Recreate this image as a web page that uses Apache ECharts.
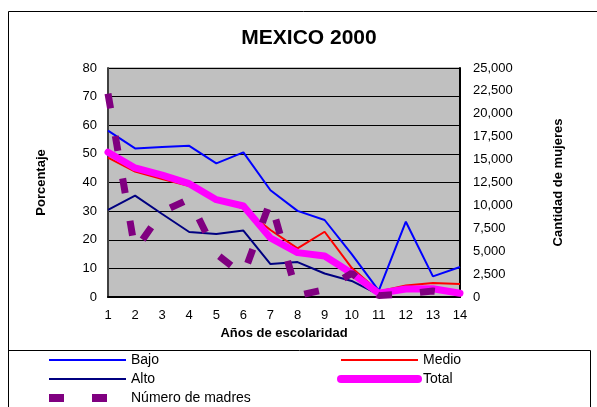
<!DOCTYPE html>
<html>
<head>
<meta charset="utf-8">
<script src="https://cdn.jsdelivr.net/npm/echarts@6/dist/echarts.min.js"></script>
<style>
  html, body { margin: 0; padding: 0; background: #fff; }
  #chart { width: 597px; height: 407px; }
</style>
</head>
<body>
<div id="chart"></div>
<script>
// datos
const anios = ["1", "2", "3", "4", "5", "6", "7", "8", "9", "10", "11", "12", "13", "14"];
const bajo = [58.1, 51.9, 52.4, 52.8, 46.7, 50.5, 37.3, 30.1, 26.9, 15.0, 2.2, 26.3, 7.2, 10.5];
const medio = [48.7, 43.8, 41.2, 38.8, 34.3, 30.9, 23.4, 17.0, 22.8, 10.2, 1.9, 4.0, 4.9, 4.5];
const alto = [30.4, 35.4, 29.0, 22.7, 22.0, 23.2, 11.5, 12.2, 8.2, 5.6, 0.8, 2.6, 2.6, 1.2];
const total = [50.6, 45.1, 42.6, 39.6, 34.0, 31.8, 20.6, 15.5, 14.3, 8.3, 1.3, 2.8, 2.9, 1.3];
const madres = [22200, 5100, 9300, 10700, 4700, 2400, 10500, 150, 800, 2600, 150, 350, 650, 300];

const FONT = "Liberation Sans, Arial, sans-serif";

const legendBase = {
  orient: "vertical",
  top: 353,
  padding: 0,
  height: 60,
  itemWidth: 77,
  itemHeight: 14,
  itemGap: 5,
  itemStyle: { opacity: 0 },
  textStyle: { fontSize: 14, color: "#000", fontFamily: FONT },
};

let myChart = echarts.init(document.getElementById("chart"));
let option = {
  animation: false,
  textStyle: { fontFamily: FONT },
  title: {
    text: "MEXICO 2000",
    left: 304,
    textAlign: "center",
    top: 23,
    textStyle: { fontSize: 21, fontWeight: "bold", color: "#000", fontFamily: FONT },
  },
  graphic: [
    {
      type: "rect",
      shape: { x: 8.5, y: 11.5, width: 600, height: 400 },
      style: { fill: "none", stroke: "#000", lineWidth: 1 },
      silent: true,
    },
    {
      type: "rect",
      shape: { x: 8.5, y: 350.5, width: 582, height: 60 },
      style: { fill: "none", stroke: "#000", lineWidth: 1 },
      silent: true,
    },
  ],
  legend: [
    Object.assign({}, legendBase, {
      left: 45,
      data: [
        { name: "Bajo", lineStyle: { width: 2 } },
        { name: "Alto", lineStyle: { width: 2 } },
        { name: "Número de madres", lineStyle: { width: 8 } },
      ],
    }),
    Object.assign({}, legendBase, {
      left: 337,
      data: [
        { name: "Medio", lineStyle: { width: 2 } },
        { name: "Total", lineStyle: { width: 8 } },
      ],
    }),
  ],
  grid: {
    left: 108,
    right: 137,
    top: 68,
    bottom: 110,
    show: true,
    backgroundColor: "#C0C0C0",
    borderColor: "#808080",
    borderWidth: 1,
  },
  xAxis: {
    type: "category",
    data: anios,
    boundaryGap: false,
    name: "Años de escolaridad",
    nameLocation: "middle",
    nameGap: 27,
    nameTextStyle: { fontSize: 13, fontWeight: "bold", color: "#000", fontFamily: FONT },
    axisLine: { lineStyle: { color: "#000", width: 2 } },
    axisTick: { show: false },
    axisLabel: { fontSize: 13, color: "#000", margin: 12, fontFamily: FONT },
  },
  yAxis: [
    {
      type: "value",
      min: 0,
      max: 80,
      interval: 10,
      name: "Porcentaje",
      nameLocation: "middle",
      nameGap: 60,
      nameTextStyle: { fontSize: 13, fontWeight: "bold", color: "#000", fontFamily: FONT },
      axisLine: { show: true, lineStyle: { color: "#404040", width: 2 } },
      axisTick: { show: false },
      axisLabel: { fontSize: 13, color: "#000", margin: 11, fontFamily: FONT },
      splitLine: { show: true, lineStyle: { color: "#000", width: 1 } },
    },
    {
      type: "value",
      min: 0,
      max: 25000,
      interval: 2500,
      name: "Cantidad de mujeres",
      nameLocation: "middle",
      nameGap: 92,
      nameRotate: 90,
      nameTextStyle: { fontSize: 13, fontWeight: "bold", color: "#000", fontFamily: FONT },
      axisLine: { show: true, lineStyle: { color: "#000", width: 2 } },
      axisTick: { show: false },
      axisLabel: {
        fontSize: 13,
        color: "#000",
        margin: 13,
        fontFamily: FONT,
        formatter: (v) => v.toLocaleString("en-US"),
      },
      splitLine: { show: false },
    },
  ],
  series: [
    {
      name: "Bajo",
      type: "line",
      data: bajo,
      symbol: "none",
      lineStyle: { color: "#0000FF", width: 2 },
      itemStyle: { color: "#0000FF" },
    },
    {
      name: "Medio",
      type: "line",
      data: medio,
      symbol: "none",
      lineStyle: { color: "#FF0000", width: 2 },
      itemStyle: { color: "#FF0000" },
    },
    {
      name: "Alto",
      type: "line",
      data: alto,
      symbol: "none",
      lineStyle: { color: "#000080", width: 2 },
      itemStyle: { color: "#000080" },
    },
    {
      name: "Total",
      type: "line",
      data: total,
      symbol: "none",
      lineStyle: { color: "#FF00FF", width: 7, cap: "round", join: "round" },
      itemStyle: { color: "#FF00FF" },
    },
    {
      name: "Número de madres",
      type: "line",
      yAxisIndex: 1,
      data: madres,
      symbol: "none",
      lineStyle: { color: "#800080", width: 7, type: [15, 28], cap: "butt" },
      itemStyle: { color: "#800080" },
    },
  ],
};
myChart.setOption(option);
</script>
</body>
</html>
